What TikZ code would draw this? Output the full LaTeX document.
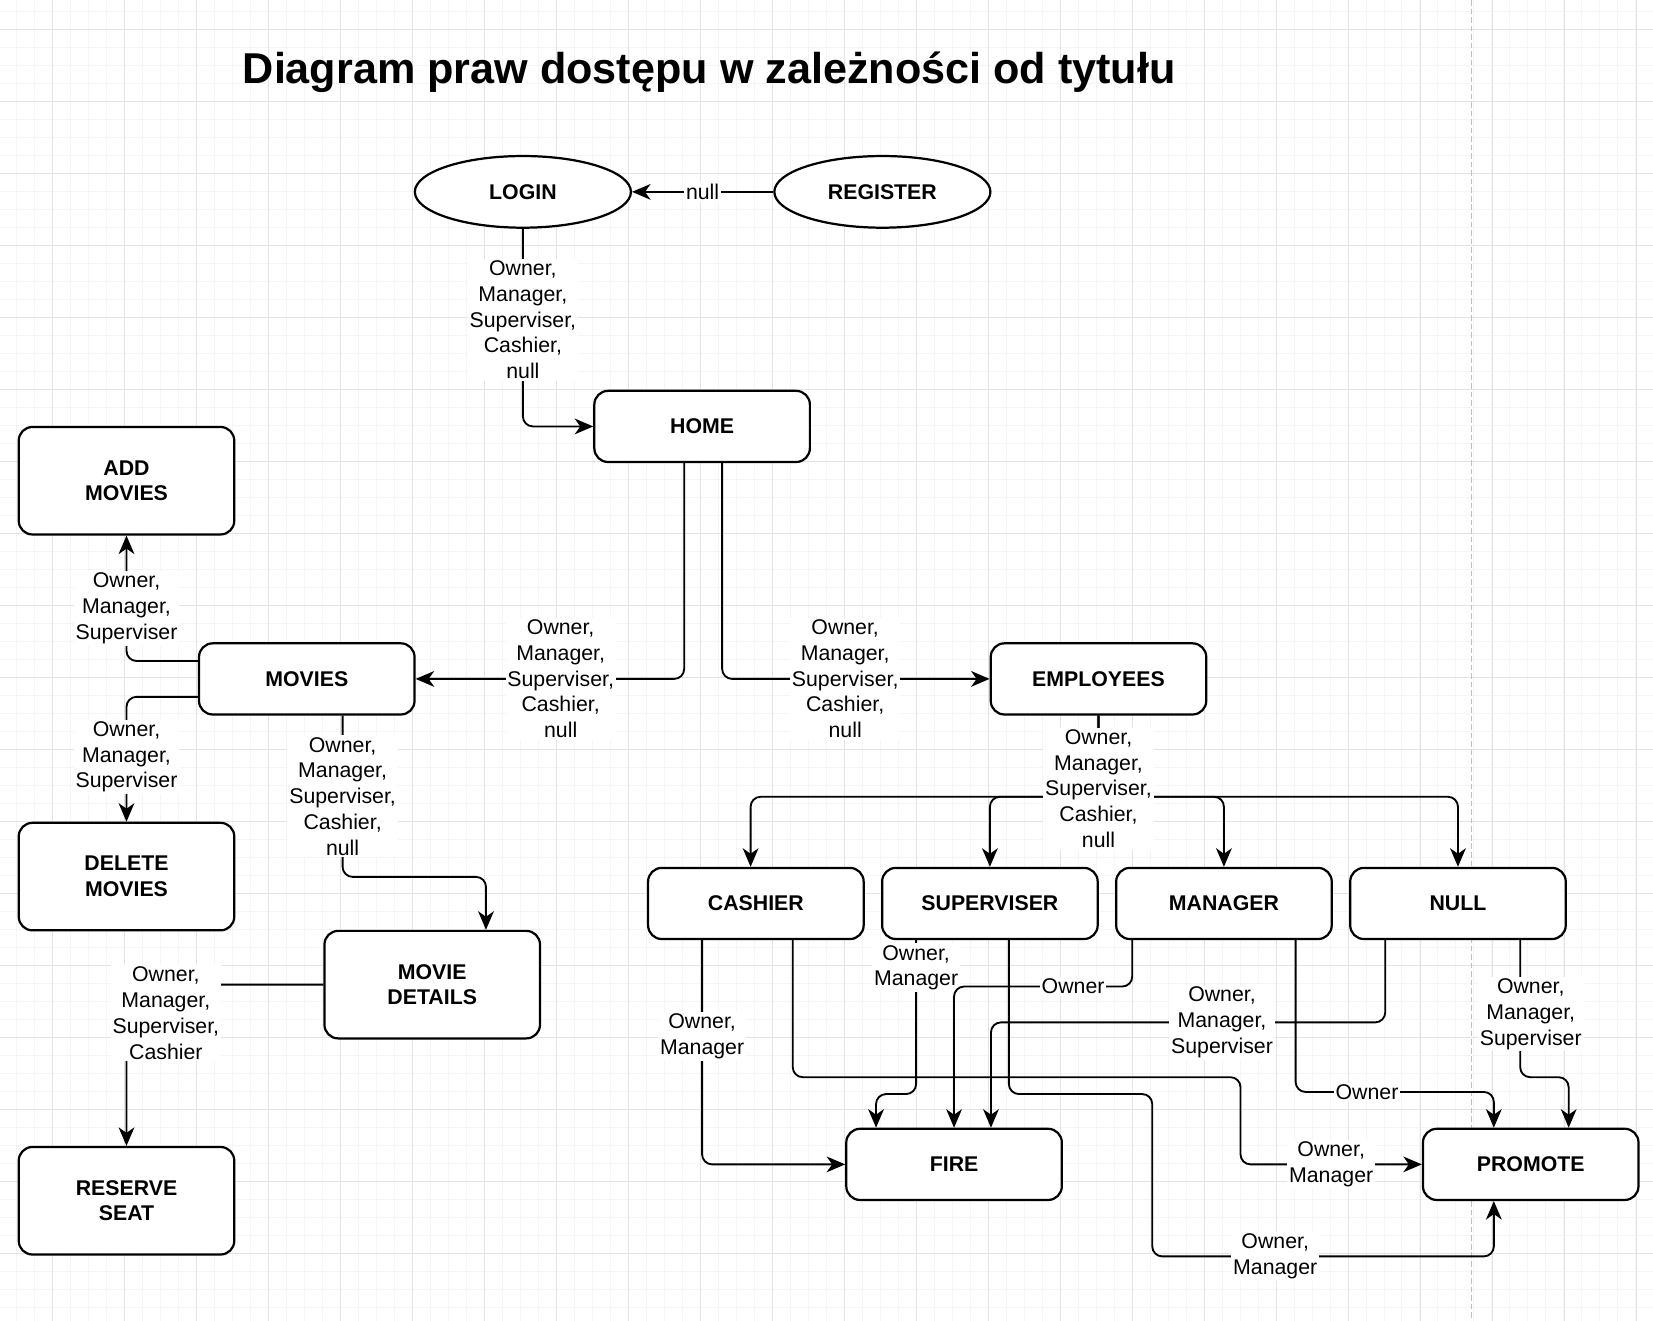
\documentclass[tikz,border=0pt]{standalone}
\usepackage{fontspec}
\setmainfont{Liberation Sans}
\usetikzlibrary{arrows.meta, shapes.geometric, calc}

\begin{document}
\begin{tikzpicture}[x=0.02cm, y=-0.02cm,
  entry/.style={ellipse, draw, line width=1.2pt, fill=white, minimum width=4.1cm, minimum height=1.36cm, inner sep=0pt, font=\fontsize{11.5pt}{13.9pt}\selectfont\bfseries},
  page/.style={rectangle, draw, rounded corners=0.26cm, line width=1.2pt, fill=white, minimum width=4.09cm, minimum height=1.35cm, inner sep=0pt, align=center, font=\fontsize{11.5pt}{13.9pt}\selectfont\bfseries},
  tallpage/.style={page, minimum height=2.04cm},
  link/.style={line width=1pt, rounded corners=0.19cm, -{Stealth[length=10pt, width=8.5pt, inset=3pt]}},
  perm/.style={fill=white, sharp corners, inner sep=1pt, align=center, font=\fontsize{11.5pt}{13.9pt}\selectfont},
  finegrid/.style={draw=black!4, line width=0.5pt},
  coarsegrid/.style={draw=black!11, line width=0.6pt}]

  % canvas and grid
  \useasboundingbox (0,0) rectangle (1568,1253);
  \fill[white] (0,0) rectangle (1568,1253);
  \foreach \i in {0,...,90} \draw[finegrid] ({15.46+17.07*\i},0) -- ({15.46+17.07*\i},1253);
  \foreach \j in {0,...,72} \draw[finegrid] (0,{10.73+17.07*\j}) -- (1568,{10.73+17.07*\j});
  \foreach \i in {0,...,22} \draw[coarsegrid] ({49.6+68.3*\i},0) -- ({49.6+68.3*\i},1253);
  \foreach \j in {0,...,17} \draw[coarsegrid] (0,{27.8+68.3*\j}) -- (1568,{27.8+68.3*\j});
  \draw[black!25, line width=0.6pt, dash pattern=on 3pt off 1.6pt] (1395.5,0) -- (1395.5,1253);

  \node[anchor=base west, inner sep=0pt, font=\fontsize{23.3pt}{28pt}\selectfont\bfseries] (title) at (230,79) {Diagram praw dostępu w zależności od tytułu};

  % pages
  \node[entry] (login) at (496,182) {LOGIN};
  \node[entry] (register) at (837,182) {REGISTER};
  \node[page] (home) at (666,404.5) {HOME};
  \node[tallpage] (addmovies) at (120,456) {ADD\\MOVIES};
  \node[page] (movies) at (291,644) {MOVIES};
  \node[page] (employees) at (1042,644) {EMPLOYEES};
  \node[tallpage] (delmovies) at (120,831.5) {DELETE\\MOVIES};
  \node[tallpage] (details) at (410,934) {MOVIE\\DETAILS};
  \node[tallpage] (reserve) at (120,1139) {RESERVE\\SEAT};
  \node[page] (cashier) at (717,857) {CASHIER};
  \node[page] (superviser) at (939,857) {SUPERVISER};
  \node[page] (manager) at (1161,857) {MANAGER};
  \node[page] (nullrole) at (1383,857) {NULL};
  \node[page] (fire) at (905,1104.5) {FIRE};
  \node[page] (promote) at (1452,1104.5) {PROMOTE};

  % entry and main menu
  \draw[link] (register.west) -- node[perm] {null} (login.east);
  \draw[link] (login.south) |- node[perm, pos=0.23] {Owner,\\Manager,\\Superviser,\\Cashier,\\null} (home.west);
  \draw[link] ($(home.south)+(-17,0)$) |- node[perm, pos=0.73] {Owner,\\Manager,\\Superviser,\\Cashier,\\null} (movies.east);
  \draw[link] ($(home.south)+(19,0)$) |- node[perm, pos=0.73] {Owner,\\Manager,\\Superviser,\\Cashier,\\null} (employees.west);

  % movies
  \draw[link] ($(movies.west)+(0,-17)$) -| node[perm, pos=0.71] {Owner,\\Manager,\\Superviser} (addmovies.south);
  \draw[link] ($(movies.west)+(0,17)$) -| node[perm, pos=0.74] {Owner,\\Manager,\\Superviser} (delmovies.north);
  \draw[link] ($(movies.south)+(34,0)$) -- node[perm] {Owner,\\Manager,\\Superviser,\\Cashier,\\null} ++(0,153) -| ($(details.north)+(51,0)$);
  \draw[link] (details.west) -| node[perm, pos=0.4, yshift=-15.4pt] {Owner,\\Manager,\\Superviser,\\Cashier} (reserve.north);

  % employees
  \draw[link] (employees.south) -- ++(0,77) -| ($(cashier.north)+(-5,0)$);
  \draw[link] (employees.south) -- ++(0,77) -| (superviser.north);
  \draw[link] (employees.south) -- ++(0,77) -| (manager.north);
  \draw[link] (employees.south) -- node[perm, pos=0.9] {Owner,\\Manager,\\Superviser,\\Cashier,\\null} ++(0,77) -| (nullrole.north);

  % fire and promote
  \draw[link] ($(cashier.south)+(-51,0)$) |- node[perm, pos=0.215] {Owner,\\Manager} (fire.west);
  \draw[link] ($(cashier.south)+(35,0)$) -- ++(0,130) -| ($(promote.west)+(-172,0)$) -- node[perm] {Owner,\\Manager} (promote.west);
  \draw[link] ($(superviser.south)+(-70,0)$) -- node[perm, pos=0.18] {Owner,\\Manager} ++(0,146) -| ($(fire.north)+(-74,0)$);
  \draw[link] ($(superviser.south)+(18,0)$) -- ++(0,146) -| ++(136,154) -| node[perm, pos=0.18] {Owner,\\Manager} ($(promote.south)+(-35,0)$);
  \draw[link] ($(manager.south)+(-87,0)$) -- ++(0,44) -| node[perm, pos=0.166] {Owner} (fire.north);
  \draw[link] ($(manager.south)+(68,0)$) -- ++(0,144) -| node[perm, pos=0.18] {Owner} ($(promote.north)+(-35,0)$);
  \draw[link] ($(nullrole.south)+(-69,0)$) -- ++(0,78) -| node[perm, pos=0.207] {Owner,\\Manager,\\Superviser} ($(fire.north)+(35,0)$);
  \draw[link] ($(nullrole.south)+(59,0)$) -- node[perm, pos=0.54, xshift=5.7pt] {Owner,\\Manager,\\Superviser} ++(0,130) -| ($(promote.north)+(36,0)$);
\end{tikzpicture}
\end{document}
